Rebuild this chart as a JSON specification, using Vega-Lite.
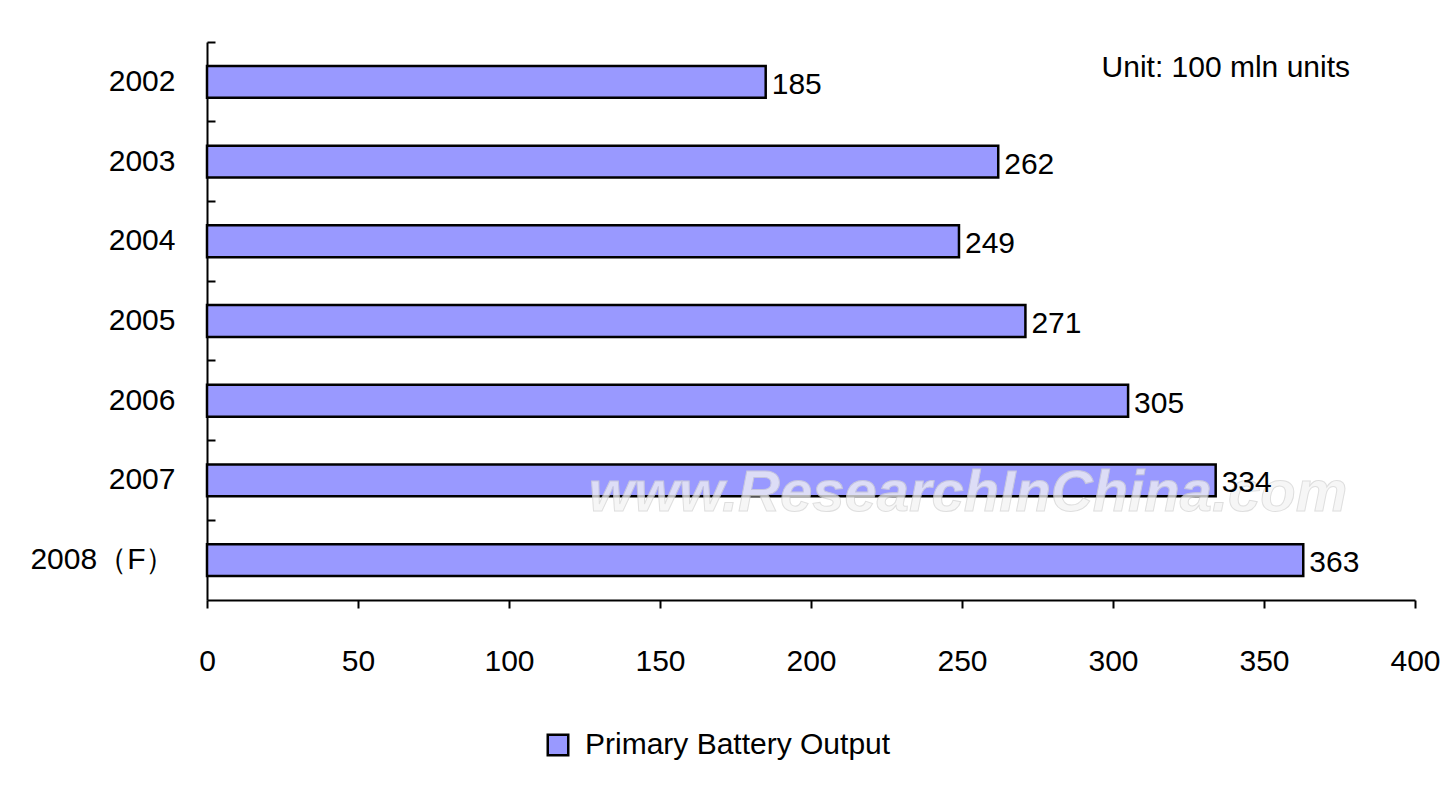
{
  "$schema": "https://vega.github.io/schema/vega-lite/v6.json",
  "autosize": {"type": "none"},
  "width": 1208,
  "height": 558,
  "padding": {"left": 207, "top": 42, "right": 33, "bottom": 200},
  "background": "white",
  "config": {
    "font": "Liberation Sans",
    "view": {"stroke": null},
    "axis": {"grid": false, "domainColor": "black", "domainWidth": 2, "tickColor": "black", "tickWidth": 2, "labelColor": "black", "labelFontSize": 30, "labelFont": "Liberation Sans"}
  },
  "data": {
    "values": [
      {"year": "2002", "value": 185, "series": "Primary Battery Output"},
      {"year": "2003", "value": 262, "series": "Primary Battery Output"},
      {"year": "2004", "value": 249, "series": "Primary Battery Output"},
      {"year": "2005", "value": 271, "series": "Primary Battery Output"},
      {"year": "2006", "value": 305, "series": "Primary Battery Output"},
      {"year": "2007", "value": 334, "series": "Primary Battery Output"},
      {"year": "2008（F）", "value": 363, "series": "Primary Battery Output"}
    ]
  },
  "encoding": {
    "y": {
      "field": "year", "type": "nominal", "sort": null, "title": null,
      "scale": {"domain": ["2002", "2003", "2004", "2005", "2006", "2007", "2008（F）"], "paddingInner": 0, "paddingOuter": 0},
      "axis": {"bandPosition": 0, "tickSize": -8, "labelPadding": 40, "labelAngle": 0}
    },
    "x": {
      "field": "value", "type": "quantitative", "title": null,
      "scale": {"domain": [0, 400], "nice": false},
      "axis": {"values": [0, 50, 100, 150, 200, 250, 300, 350, 400], "tickSize": 8, "labelPadding": 38, "labelFlush": false}
    }
  },
  "layer": [
    {
      "mark": {"type": "bar", "height": {"band": 0.4}, "stroke": "black", "strokeWidth": 2.5},
      "encoding": {
        "color": {"field": "series", "type": "nominal", "title": null,
          "scale": {"range": ["#9999ff"]},
          "legend": {"orient": "none", "legendX": 336, "legendY": 688, "symbolType": "square", "symbolSize": 420, "symbolStrokeColor": "black", "symbolStrokeWidth": 2.5, "symbolOpacity": 1, "labelFontSize": 30, "labelColor": "black", "labelFont": "Liberation Sans", "labelOffset": 12, "labelLimit": 0}
        }
      }
    },
    {
      "transform": [{"filter": "datum.year == '2007'"}],
      "mark": {"type": "text", "font": "Liberation Sans", "fontSize": 58, "fontStyle": "italic", "fontWeight": "bold", "color": "#f4f4f4", "stroke": "#d4d4d4", "strokeWidth": 1, "opacity": 0.75, "align": "center", "baseline": "middle", "dy": 14},
      "encoding": {"x": {"datum": 252}, "text": {"value": "www.ResearchInChina.com"}}
    },
    {
      "mark": {"type": "text", "align": "left", "baseline": "middle", "dx": 6, "dy": 3, "fontSize": 30, "color": "black"},
      "encoding": {"text": {"field": "value", "type": "quantitative"}}
    },
    {
      "transform": [{"filter": "datum.year == '2002'"}],
      "mark": {"type": "text", "align": "right", "baseline": "middle", "fontSize": 30, "color": "black", "dx": -65, "dy": -14},
      "encoding": {"x": {"datum": 400}, "text": {"value": "Unit: 100 mln units"}}
    }
  ]
}
